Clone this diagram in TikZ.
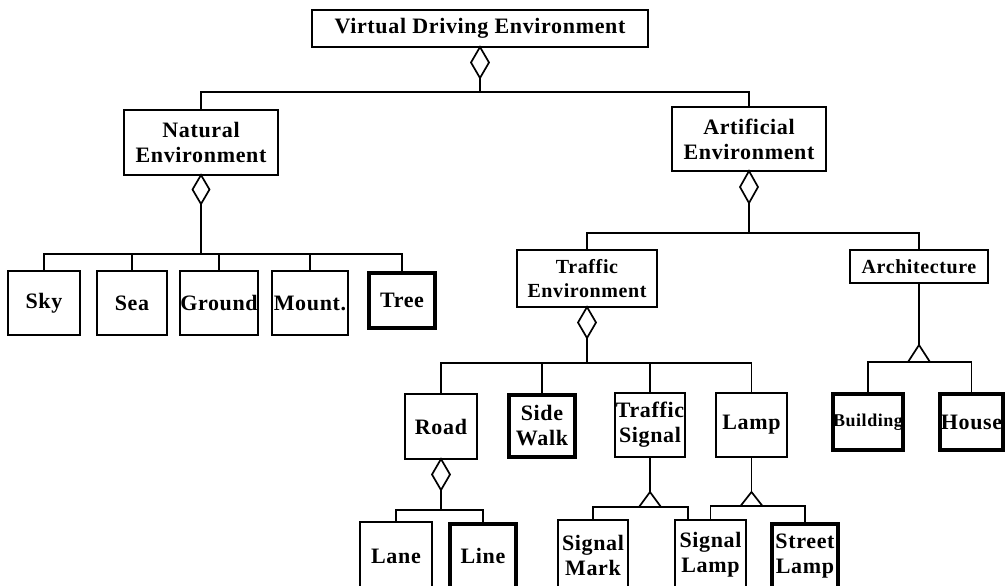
\documentclass[tikz,border=0pt]{standalone}
\usepackage{fontspec}
\setmainfont[LetterSpace=3]{Liberation Serif}
\begin{document}
\begin{tikzpicture}[x=1pt,y=-1pt,line width=1.9pt,
  box/.style={draw, inner sep=0pt, outer sep=0pt, align=center, font=\fontsize{22}{25}\selectfont\bfseries},
  thickbox/.style={box, line width=4.5pt},
  conn/.style={line width=1.9pt},
  agg/.style={line width=1.7pt, fill=white, line join=miter}]
\useasboundingbox (0,0) rectangle (1007,586);
\clip (0,0) rectangle (1007,586);
% level 0
\node[box, minimum width=336, minimum height=37] (vde) at (480,28.5) {\raisebox{-2pt}{Virtual Driving Environment}};
% level 1
\node[box, minimum width=154, minimum height=65] (nat) at (201,142.5) {Natural\\Environment};
\node[box, minimum width=154, minimum height=64] (art) at (749,139) {Artificial\\Environment};
% natural children
\node[box, minimum width=72, minimum height=64] (sky) at (44,303) {Sky};
\node[box, minimum width=70, minimum height=64] (sea) at (132,303) {Sea};
\node[box, minimum width=74, minimum height=64] (ground) at (219,303) {Ground};
\node[box, minimum width=76, minimum height=64] (mount) at (310,303) {Mount.};
\node[thickbox, minimum width=66, minimum height=55] (tree) at (402,300.5) {Tree};
% artificial children
\node[box, minimum width=140, minimum height=57, font=\fontsize{20}{24}\selectfont\bfseries] (traf) at (587,278.5) {Traffic\\Environment};
\node[box, minimum width=138, minimum height=33, font=\fontsize{20}{24}\selectfont\bfseries] (arch) at (919,266.5) {Architecture};
% traffic children
\node[box, minimum width=72, minimum height=65] (road) at (441,426.5) {Road};
\node[thickbox, minimum width=66, minimum height=62] (side) at (542,426) {Side\\Walk};
\node[box, minimum width=70, minimum height=64] (tsig) at (650,425) {Traffic\\Signal};
\node[box, minimum width=71, minimum height=64] (lamp) at (751.5,425) {Lamp};
% architecture children
\node[thickbox, minimum width=66, minimum height=56, font=\fontsize{18}{22}\selectfont\bfseries] (build) at (868,422) {Building};
\node[thickbox, minimum width=63, minimum height=56] (house) at (971.5,422) {House};
% bottom row
\node[box, minimum width=72, minimum height=68] (lane) at (396,556) {Lane};
\node[thickbox, minimum width=66, minimum height=64] (line) at (483,556) {Line};
\node[box, minimum width=70, minimum height=70] (smark) at (593,555) {Signal\\Mark};
\node[box, minimum width=71, minimum height=70] (slamp) at (710.5,555) {Signal\\Lamp};
\node[thickbox, minimum width=66, minimum height=64] (stlamp) at (805,556) {Street\\Lamp};

% bar coordinates
\coordinate (b0) at (480,92);
\coordinate (b1) at (201,254);
\coordinate (b2) at (749,233);
\coordinate (b3) at (587,363);
\coordinate (b4) at (441,510);
\coordinate (ta) at (919,345);
\coordinate (tt) at (650,492);
\coordinate (tl) at (751.5,492);

% aggregation diamonds
\draw[agg] (vde.south) -- ++(9,15.5) -- ++(-9,15.5) coordinate (dv) -- ++(-9,-15.5) -- cycle;
\draw[agg] (nat.south) -- ++(8.5,14.5) -- ++(-8.5,14.5) coordinate (dn) -- ++(-8.5,-14.5) -- cycle;
\draw[agg] (art.south) -- ++(9,16) -- ++(-9,16) coordinate (da) -- ++(-9,-16) -- cycle;
\draw[agg] (traf.south) -- ++(9,15.5) -- ++(-9,15.5) coordinate (dt) -- ++(-9,-15.5) -- cycle;
\draw[agg] (road.south) -- ++(9,15.5) -- ++(-9,15.5) coordinate (dr) -- ++(-9,-15.5) -- cycle;

% connectors, level 0
\draw[conn] (dv) -- (dv |- b0);
\draw[conn] (dv |- b0) -| (nat.north);
\draw[conn] (dv |- b0) -| (art.north);
% natural
\draw[conn] (dn) -- (dn |- b1);
\foreach \c in {sky,sea,ground,mount,tree} \draw[conn] (dn |- b1) -| (\c.north);
% artificial
\draw[conn] (da) -- (da |- b2);
\draw[conn] (da |- b2) -| (traf.north);
\draw[conn] (da |- b2) -| (arch.north);
% traffic
\draw[conn] (dt) -- (dt |- b3);
\foreach \c in {road,side,tsig,lamp} \draw[conn] (dt |- b3) -| (\c.north);
% road
\draw[conn] (dr) -- (dr |- b4);
\draw[conn] (dr |- b4) -| (lane.north);
\draw[conn] (dr |- b4) -| (line.north);
% architecture (inheritance)
\draw[conn] (arch.south) -- (ta);
\draw[agg] (ta) -- ++(11,17) coordinate (tar) -- ++(-22,0) -- cycle;
\draw[conn] (ta |- tar) -| (build.north);
\draw[conn] (ta |- tar) -| (house.north);
% traffic signal
\draw[conn] (tsig.south) -- (tt);
\draw[agg] (tt) -- ++(11,15) coordinate (ttr) -- ++(-22,0) -- cycle;
\draw[conn] (tt |- ttr) -| (smark.north);
\draw[conn] (tt |- ttr) -| ([xshift=-22.5pt]slamp.north);
% lamp
\draw[conn] (lamp.south) -- (tl);
\draw[agg] (tl) -- ++(11,14) coordinate (tlr) -- ++(-22,0) -- cycle;
\draw[conn] (tl |- tlr) -| (slamp.north);
\draw[conn] (tl |- tlr) -| (stlamp.north);
\end{tikzpicture}
\end{document}
